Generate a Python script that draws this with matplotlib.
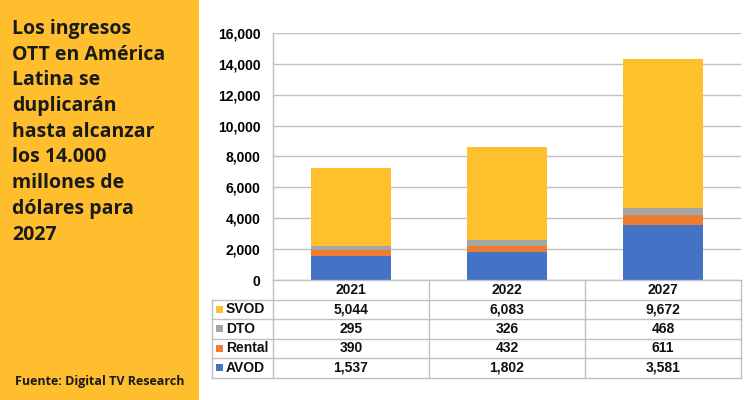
import matplotlib
matplotlib.use("Agg")
from matplotlib import pyplot as plt
from matplotlib import patches as patches

years = ["2021", "2022", "2027"]
series = ["SVOD", "DTO", "Rental", "AVOD"]
avod = [1537, 1802, 3581]
rental = [390, 432, 611]
dto = [295, 326, 468]
svod = [5044, 6083, 9672]
yticks = [0, 2000, 4000, 6000, 8000, 10000, 12000, 14000, 16000]

title = ("Los ingresos\nOTT en América\nLatina se\nduplicarán\nhasta alcanzar\n"
         "los 14.000\nmillones de\ndólares para\n2027")
source = "Fuente: Digital TV Research"

colors = {"SVOD": "#FFC02E", "DTO": "#A5A5A5", "Rental": "#ED7D31", "AVOD": "#4472C4"}
panel_yellow = "#FEBE2E"
grid_gray = "#C0C0C0"

W, H = 750, 400
fig = plt.figure(figsize=(W / 100, H / 100), dpi=100)
fig.patch.set_facecolor("white")

# chart area in pixels
x0, x1, y_top, y_bot = 273, 741, 33, 280
ax = fig.add_axes([x0 / W, 1 - y_bot / H, (x1 - x0) / W, (y_bot - y_top) / H])

xs = range(len(years))
bw = 0.51
ax.bar(xs, avod, bw, color=colors["AVOD"], zorder=3)
bottom = list(avod)
ax.bar(xs, rental, bw, bottom=bottom, color=colors["Rental"], zorder=3)
bottom = [b + v for b, v in zip(bottom, rental)]
ax.bar(xs, dto, bw, bottom=bottom, color=colors["DTO"], zorder=3)
bottom = [b + v for b, v in zip(bottom, dto)]
ax.bar(xs, svod, bw, bottom=bottom, color=colors["SVOD"], zorder=3)

ax.set_xlim(-0.5, len(years) - 0.5)
ax.set_ylim(0, 16000)
ax.set_yticks(yticks)
ax.set_yticklabels([f"{t:,}" for t in yticks], fontsize=10, fontweight="bold",
                   family="Liberation Sans")
ax.set_xticks([])
ax.tick_params(axis="y", length=0, pad=9)
ax.yaxis.grid(True, color=grid_gray, linewidth=1, zorder=0)
for s in ["top", "right", "bottom"]:
    ax.spines[s].set_visible(False)
ax.spines["left"].set_color(grid_gray)
ax.spines["left"].set_linewidth(1)

# overlay in pixel coordinates for panel and table
ov = fig.add_axes([0, 0, 1, 1], zorder=-1)
ov.set_xlim(0, W)
ov.set_ylim(H, 0)
ov.axis("off")
ov.add_patch(patches.Rectangle((0, 0), 199, H, color=panel_yellow, lw=0))
ov.text(12, 19, title, fontsize=14, fontweight="bold", family="Open Sans",
        color="#1A1A1A", va="top", ha="left", linespacing=1.38)
ov.text(15, 381, source, fontsize=9, fontweight="bold", family="Open Sans",
        color="#1A1A1A", va="center", ha="left")

tab = fig.add_axes([0, 0, 1, 1], zorder=5)
tab.set_xlim(0, W)
tab.set_ylim(H, 0)
tab.axis("off")
tl = 212
col_w = (x1 - x0) / len(years)
col_edges = [x0 + i * col_w for i in range(len(years) + 1)]
row_edges = [280, 299.5, 319, 338.5, 358, 377.5]
lc = dict(color=grid_gray, lw=1)
# horizontal lines
tab.plot([x0, x1], [row_edges[0]] * 2, **lc)
for y in row_edges[1:]:
    tab.plot([tl, x1], [y, y], **lc)
# vertical lines
tab.plot([tl, tl], [row_edges[1], row_edges[-1]], **lc)
for x in col_edges:
    tab.plot([x, x], [row_edges[0], row_edges[-1]], **lc)

tfont = dict(fontsize=10, fontweight="bold", family="Liberation Sans", color="#111111")
for i, yr in enumerate(years):
    cx = (col_edges[i] + col_edges[i + 1]) / 2
    tab.text(cx, (row_edges[0] + row_edges[1]) / 2, yr, ha="center", va="center", **tfont)

table_rows = {"SVOD": svod, "DTO": dto, "Rental": rental, "AVOD": avod}
for r, name in enumerate(series):
    cy = (row_edges[r + 1] + row_edges[r + 2]) / 2
    tab.add_patch(patches.Rectangle((216, cy - 3.5), 7, 7, color=colors[name], lw=0))
    tab.text(226, cy, name, ha="left", va="center", **tfont)
    for i, v in enumerate(table_rows[name]):
        cx = (col_edges[i] + col_edges[i + 1]) / 2
        tab.text(cx, cy, f"{v:,}", ha="center", va="center", **tfont)

fig.savefig("out.png", dpi=100)
